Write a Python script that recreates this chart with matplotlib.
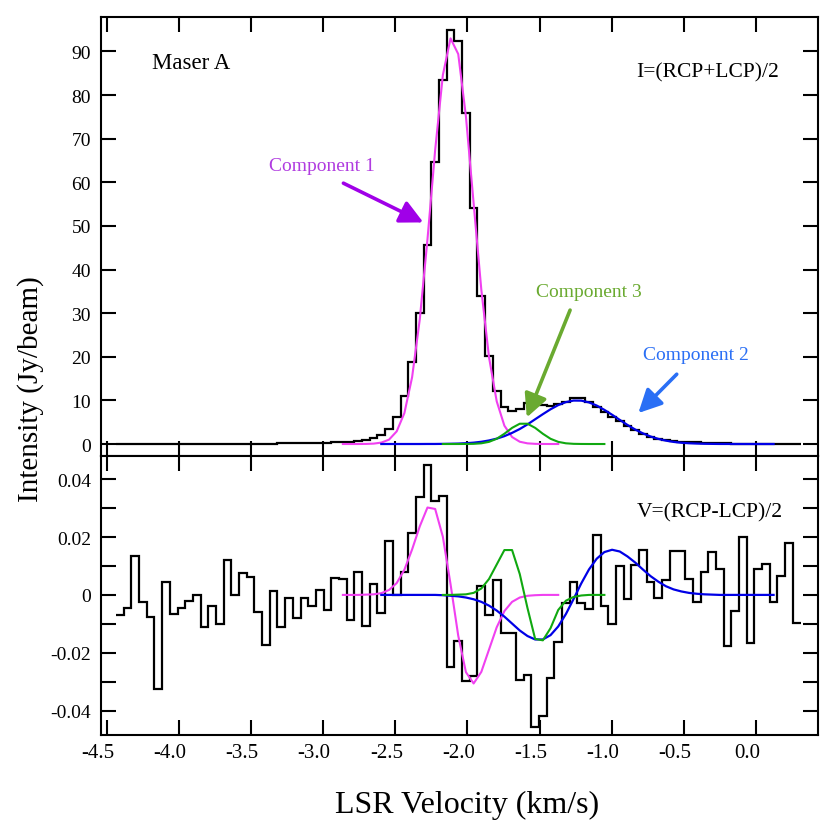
import numpy as np
import matplotlib
matplotlib.use("Agg")
import matplotlib.pyplot as plt
from matplotlib.transforms import ScaledTranslation

plt.rcParams['font.family'] = ['Liberation Serif', 'DejaVu Serif']

# ---------------- data ----------------
V_START = -4.436   # km/s, left edge of first channel
DV = 0.0533        # km/s, channel width

stokes_i = [0.05, 0.05, 0.05, 0.05, 0.05, 0.05, 0.05, 0.05, 0.05, 0.05,
            0.05, 0.1, 0.1, 0.1, 0.1, 0.1, 0.1, 0.1, 0.1, 0.1,
            0.1, 0.15, 0.15, 0.15, 0.15, 0.2, 0.25, 0.3, 0.35, 0.45,
            0.55, 0.7, 0.9, 1.3, 2.1, 3.4, 6.3, 11.1, 18.9, 30.0,
            45.6, 64.6, 83.4, 94.9, 92.3, 76.0, 54.0, 34.0, 20.2, 12.2,
            8.4, 7.5, 8.0, 9.3, 9.2, 8.9, 8.8, 9.2, 9.7, 10.5,
            10.5, 9.7, 8.4, 7.3, 6.2, 5.3, 4.2, 3.3, 2.3, 1.7,
            1.1, 0.9, 0.7, 0.5, 0.4, 0.4, 0.3, 0.25, 0.2, 0.15,
            0.1, 0.1, 0.1, 0.1, 0.1, 0.1, 0.1, 0.1, 0.1]

stokes_v = [-0.0068, -0.0045, 0.0136, -0.0025, -0.0075, -0.0325, 0.0046, -0.0066, -0.0045, -0.0020,
            -0.0002, -0.0110, -0.0037, -0.0100, 0.0119, 0.0000, 0.0076, 0.0061, -0.0058, -0.0173,
            0.0012, -0.0110, -0.0012, -0.0080, -0.0012, -0.0037, 0.0017, -0.0052, 0.0058, 0.0054,
            -0.0086, 0.0078, -0.0108, 0.0038, -0.0062, 0.0188, -0.0002, 0.0078, 0.0214, 0.0337,
            0.0449, 0.0326, 0.0343, -0.0250, -0.0158, -0.0298, -0.0279, 0.0030, -0.0068, 0.0052,
            -0.0132, -0.0132, -0.0294, -0.0276, -0.0455, -0.0420, -0.0288, -0.0163, -0.0029, 0.0046,
            -0.0027, -0.0048, 0.0207, -0.0037, -0.0100, 0.0099, -0.0014, 0.0105, 0.0156, 0.0045,
            -0.0009, 0.0052, 0.0153, 0.0153, 0.0055, -0.0023, 0.0078, 0.0148, 0.0091, -0.0178,
            -0.0054, 0.0199, -0.0167, 0.0088, 0.0107, -0.0025, 0.0067, 0.0180, -0.0098]

# fitted components, sampled at channel centres starting at the given channel
comp1_start = 29
comp1_i = [0.0, 0.0, 0.0, 0.02, 0.09, 0.32, 1.0, 2.9, 7.1, 15.3,
           28.6, 46.9, 67.4, 84.6, 93.0, 89.4, 75.1, 55.2, 35.4, 19.9,
           9.8, 4.2, 1.6, 0.52, 0.15, 0.04, 0.01, 0.0, 0.0]
comp1_v = [0.0, 0.0, 0.0, 0.0001, 0.0002, 0.0006, 0.0017, 0.0041, 0.0087, 0.0157,
           0.0237, 0.0302, 0.0297, 0.0201, 0.0037, -0.0141, -0.0267, -0.0306, -0.0266, -0.0189,
           -0.0112, -0.0056, -0.0024, -0.0009, -0.0003, -0.0001, 0.0, 0.0, 0.0]

comp2_start = 34
comp2_i = [0.0, 0.0, 0.0, 0.0, 0.0, 0.0, 0.01, 0.01, 0.03, 0.06,
           0.10, 0.18, 0.31, 0.51, 0.81, 1.23, 1.80, 2.55, 3.44, 4.49,
           5.67, 6.84, 7.96, 8.92, 9.61, 9.96, 9.94, 9.54, 8.82, 7.83,
           6.71, 5.53, 4.37, 3.33, 2.45, 1.72, 1.18, 0.77, 0.48, 0.29,
           0.17, 0.10, 0.05, 0.03, 0.01, 0.01, 0.0, 0.0, 0.0, 0.0,
           0.0, 0.0]
comp2_v = [0.0, 0.0, 0.0, 0.0, 0.0, 0.0, 0.0, 0.0, -0.0001, -0.0003,
           -0.0005, -0.0009, -0.0015, -0.0024, -0.0037, -0.0054, -0.0075, -0.0099, -0.0123, -0.0142,
           -0.0154, -0.0154, -0.0139, -0.0109, -0.0066, -0.0014, 0.0040, 0.0088, 0.0125, 0.0148,
           0.0156, 0.0150, 0.0133, 0.0112, 0.0088, 0.0065, 0.0046, 0.0030, 0.0019, 0.0012,
           0.0007, 0.0004, 0.0002, 0.0001, 0.0, 0.0, 0.0, 0.0, 0.0, 0.0,
           0.0, 0.0]

comp3_start = 42
comp3_i = [0.0, 0.0, 0.0, 0.01, 0.04, 0.16, 0.49, 1.2, 2.35, 3.7,
           4.65, 4.65, 3.7, 2.35, 1.2, 0.49, 0.16, 0.04, 0.01, 0.0,
           0.0, 0.0]
comp3_v = [0.0, 0.0, 0.0001, 0.0002, 0.0007, 0.0022, 0.0055, 0.0105, 0.0155, 0.0155,
           0.0072, -0.0045, -0.0152, -0.0157, -0.0115, -0.0052, -0.0020, -0.0007, -0.0002, 0.0,
           0.0, 0.0]

x_ticks = [-4.5, -4.0, -3.5, -3.0, -2.5, -2.0, -1.5, -1.0, -0.5, 0.0]
x_tick_labels = ["-4.5", "-4.0", "-3.5", "-3.0", "-2.5", "-2.0", "-1.5", "-1.0", "-0.5", "0.0"]
i_ticks = [0, 10, 20, 30, 40, 50, 60, 70, 80, 90]
i_tick_labels = ["0", "10", "20", "30", "40", "50", "60", "70", "80", "90"]
v_ticks = [-0.04, -0.03, -0.02, -0.01, 0.0, 0.01, 0.02, 0.03, 0.04]
v_tick_labels = ["-0.04", "", "-0.02", "", "0", "", "0.02", "", "0.04"]

# ---------------- figure ----------------
C_MAG = '#F040F0'
C_BLUE = '#0000E6'
C_GREEN = '#10A810'

fig = plt.figure(figsize=(8.3, 8.37), dpi=100)
ax1 = fig.add_axes([0.1213, 0.454, 0.8639, 0.5245])
ax2 = fig.add_axes([0.1213, 0.1207, 0.8639, 0.3333])

n = len(stokes_i)
edges = V_START + DV * np.arange(n + 1)
centres = V_START + DV * (np.arange(n) + 0.5)


def cx(start, vals):
    return centres[start:start + len(vals)]


ax1.stairs(stokes_i, edges, baseline=None, color='k', lw=1.6, zorder=2)
ax1.plot(cx(comp1_start, comp1_i), comp1_i, color=C_MAG, lw=1.5, zorder=3)
ax1.plot(cx(comp2_start, comp2_i), comp2_i, color=C_BLUE, lw=1.6, zorder=4)
ax1.plot(cx(comp3_start, comp3_i), comp3_i, color=C_GREEN, lw=1.5, zorder=5)

ax2.stairs(stokes_v, edges, baseline=None, color='k', lw=1.6, zorder=2)
ax2.plot(cx(comp1_start, comp1_v), comp1_v, color=C_MAG, lw=1.5, zorder=3)
ax2.plot(cx(comp2_start, comp2_v), comp2_v, color=C_BLUE, lw=1.6, zorder=4)
ax2.plot(cx(comp3_start, comp3_v), comp3_v, color=C_GREEN, lw=1.5, zorder=5)

for ax in (ax1, ax2):
    ax.set_xlim(-4.542, 0.427)
    ax.set_xticks(x_ticks)
    ax.tick_params(direction='in', length=10.5, width=1.5, top=True, right=True,
                   labelsize=14)
    ax.tick_params(axis='x', pad=6)
    ax.tick_params(axis='y', pad=7)
    for s in ax.spines.values():
        s.set_linewidth(1.5)

ax1.set_ylim(-2.75, 97.9)
ax1.set_yticks(i_ticks)
ax1.set_yticklabels(i_tick_labels)
ax1.tick_params(axis='x', labelbottom=False)

ax2.set_ylim(-0.0484, 0.0480)
ax2.set_yticks(v_ticks)
ax2.set_yticklabels(v_tick_labels)
ax2.set_xticklabels(x_tick_labels, fontsize=15)
shift = ScaledTranslation(-9 / 100, 0, fig.dpi_scale_trans)
for lab in ax2.get_xticklabels():
    lab.set_transform(lab.get_transform() + shift)

# labels
fig.text(0.037, 0.535, 'Intensity (Jy/beam)', rotation=90, ha='center', va='center',
         fontsize=21)
fig.text(0.5627, 0.0287, 'LSR Velocity (km/s)', ha='center', va='baseline', fontsize=23)

# annotations in top panel
ax1.text(-4.188, 87.5, 'Maser A', ha='left', va='center', fontsize=16.5)
ax1.text(-0.336, 85.3, 'I=(RCP+LCP)/2', ha='center', va='center', fontsize=15.5)
ax2.text(-0.321, 0.0286, 'V=(RCP-LCP)/2', ha='center', va='center', fontsize=15.5)

ax1.text(-3.008, 63.9, 'Component 1', ha='center', va='center', fontsize=14, color='#B03CE0')
ax1.text(-1.157, 34.9, 'Component 3', ha='center', va='center', fontsize=14, color='#6AAA30')
ax1.text(-0.417, 20.6, 'Component 2', ha='center', va='center', fontsize=14, color='#2A6FF5')

arrow_style = '-|>,head_length=0.7,head_width=0.35'
ax1.annotate('', xy=(-2.306, 50.8), xytext=(-2.860, 59.8),
             arrowprops=dict(arrowstyle=arrow_style, color='#A000E8', lw=2.6,
                             mutation_scale=20, shrinkA=0, shrinkB=0), zorder=6)
ax1.annotate('', xy=(-1.589, 6.1), xytext=(-1.289, 30.7),
             arrowprops=dict(arrowstyle=arrow_style, color='#6AAA30', lw=2.6,
                             mutation_scale=20, shrinkA=0, shrinkB=0), zorder=6)
ax1.annotate('', xy=(-0.816, 7.1), xytext=(-0.550, 16.0),
             arrowprops=dict(arrowstyle=arrow_style, color='#2A6FF5', lw=2.6,
                             mutation_scale=20, shrinkA=0, shrinkB=0), zorder=6)

fig.savefig('out.png', dpi=100)
